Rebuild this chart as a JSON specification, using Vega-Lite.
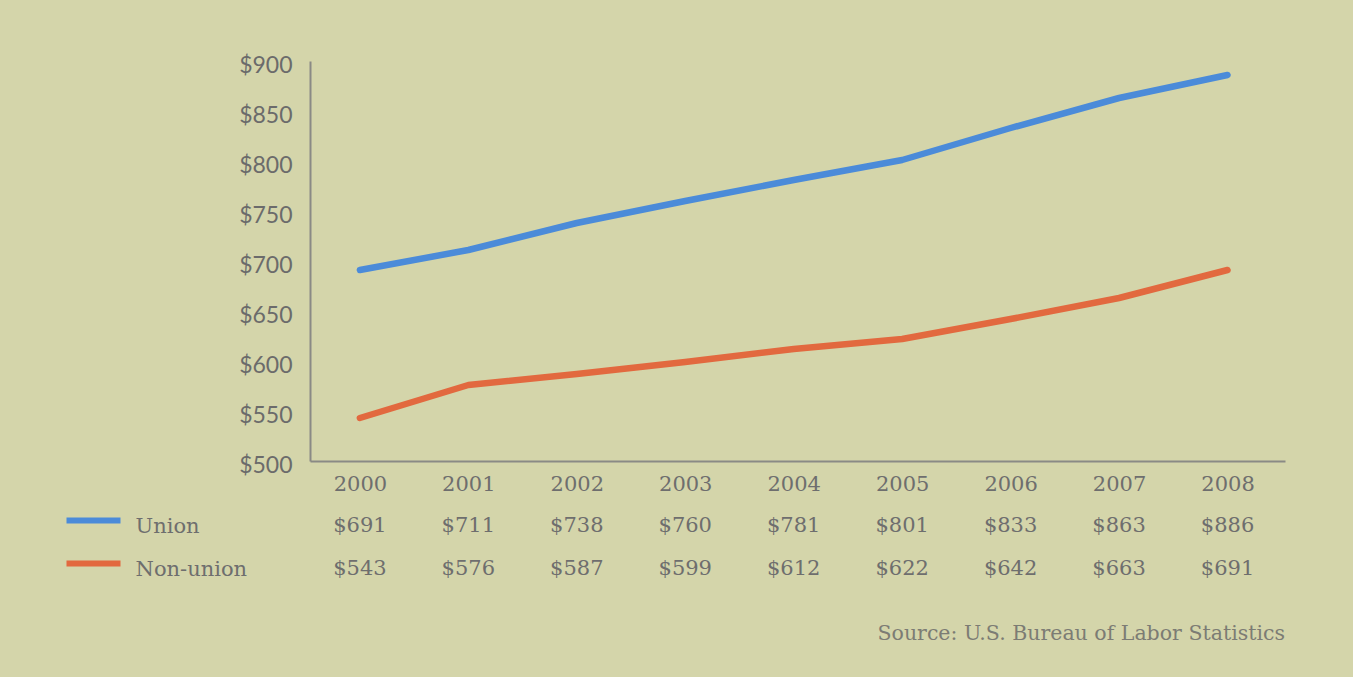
{
  "$schema": "https://vega.github.io/schema/vega-lite/v6.json",
  "background": "#d4d5aa",
  "padding": {"left": 63, "top": 54, "right": 68, "bottom": 32},
  "config": {"view": {"stroke": null}, "concat": {"spacing": 10}},
  "datasets": {
    "wages": [
      {"year": 2000, "series": "Union", "wage": 691},
      {"year": 2001, "series": "Union", "wage": 711},
      {"year": 2002, "series": "Union", "wage": 738},
      {"year": 2003, "series": "Union", "wage": 760},
      {"year": 2004, "series": "Union", "wage": 781},
      {"year": 2005, "series": "Union", "wage": 801},
      {"year": 2006, "series": "Union", "wage": 833},
      {"year": 2007, "series": "Union", "wage": 863},
      {"year": 2008, "series": "Union", "wage": 886},
      {"year": 2000, "series": "Non-union", "wage": 543},
      {"year": 2001, "series": "Non-union", "wage": 576},
      {"year": 2002, "series": "Non-union", "wage": 587},
      {"year": 2003, "series": "Non-union", "wage": 599},
      {"year": 2004, "series": "Non-union", "wage": 612},
      {"year": 2005, "series": "Non-union", "wage": 622},
      {"year": 2006, "series": "Non-union", "wage": 642},
      {"year": 2007, "series": "Non-union", "wage": 663},
      {"year": 2008, "series": "Non-union", "wage": 691}
    ]
  },
  "title": {
    "text": "Source: U.S. Bureau of Labor Statistics",
    "orient": "bottom",
    "anchor": "end",
    "font": "DejaVu Serif",
    "fontSize": 20.5,
    "fontWeight": "normal",
    "color": "#7c7c74",
    "offset": 34
  },
  "vconcat": [
    {
      "width": 975,
      "height": 400,
      "data": {"name": "wages"},
      "mark": {"type": "line", "strokeWidth": 6.5, "strokeCap": "round", "strokeJoin": "round"},
      "encoding": {
        "x": {
          "field": "year",
          "type": "quantitative",
          "scale": {"domain": [1999.54, 2008.53], "nice": false, "zero": false},
          "axis": {
            "values": [2000, 2001, 2002, 2003, 2004, 2005, 2006, 2007, 2008],
            "format": "d",
            "title": null,
            "grid": false,
            "ticks": false,
            "domainColor": "#8a8a85",
            "domainWidth": 2,
            "labelFont": "DejaVu Serif",
            "labelFontSize": 21,
            "labelColor": "#6e6e6e",
            "labelPadding": 12
          }
        },
        "y": {
          "field": "wage",
          "type": "quantitative",
          "scale": {"domain": [500, 900], "nice": false, "zero": false},
          "axis": {
            "values": [500, 550, 600, 650, 700, 750, 800, 850, 900],
            "format": "$d",
            "title": null,
            "grid": false,
            "ticks": false,
            "domainColor": "#8a8a85",
            "domainWidth": 2,
            "labelFont": "Lato",
            "labelFontSize": 23,
            "labelColor": "#6b6b6b",
            "labelPadding": 18,
            "labelOffset": 4
          }
        },
        "color": {
          "field": "series",
          "type": "nominal",
          "scale": {"domain": ["Union", "Non-union"], "range": ["#4b8bd9", "#e2693f"]},
          "legend": null
        }
      }
    },
    {
      "width": 975,
      "height": 86,
      "data": {"name": "wages"},
      "mark": {"type": "text", "font": "DejaVu Serif", "fontSize": 21, "color": "#6e6e6e"},
      "encoding": {
        "x": {
          "field": "year",
          "type": "quantitative",
          "scale": {"domain": [1999.54, 2008.53], "nice": false, "zero": false},
          "axis": null
        },
        "y": {
          "field": "series",
          "type": "nominal",
          "scale": {"domain": ["Union", "Non-union"], "paddingInner": 0, "paddingOuter": 0},
          "axis": {
            "title": null,
            "domain": false,
            "grid": false,
            "offset": 190,
            "tickSize": 54,
            "tickWidth": 6,
            "tickOffset": -6,
            "labelOffset": 7,
            "tickColor": {"condition": {"test": "datum.value === 'Union'", "value": "#4b8bd9"}, "value": "#e2693f"},
            "labelAlign": "left",
            "labelPadding": -69,
            "labelFont": "DejaVu Serif",
            "labelFontSize": 21,
            "labelColor": "#6e6e6e"
          }
        },
        "text": {"field": "wage", "type": "quantitative", "format": "$d"}
      }
    }
  ]
}
